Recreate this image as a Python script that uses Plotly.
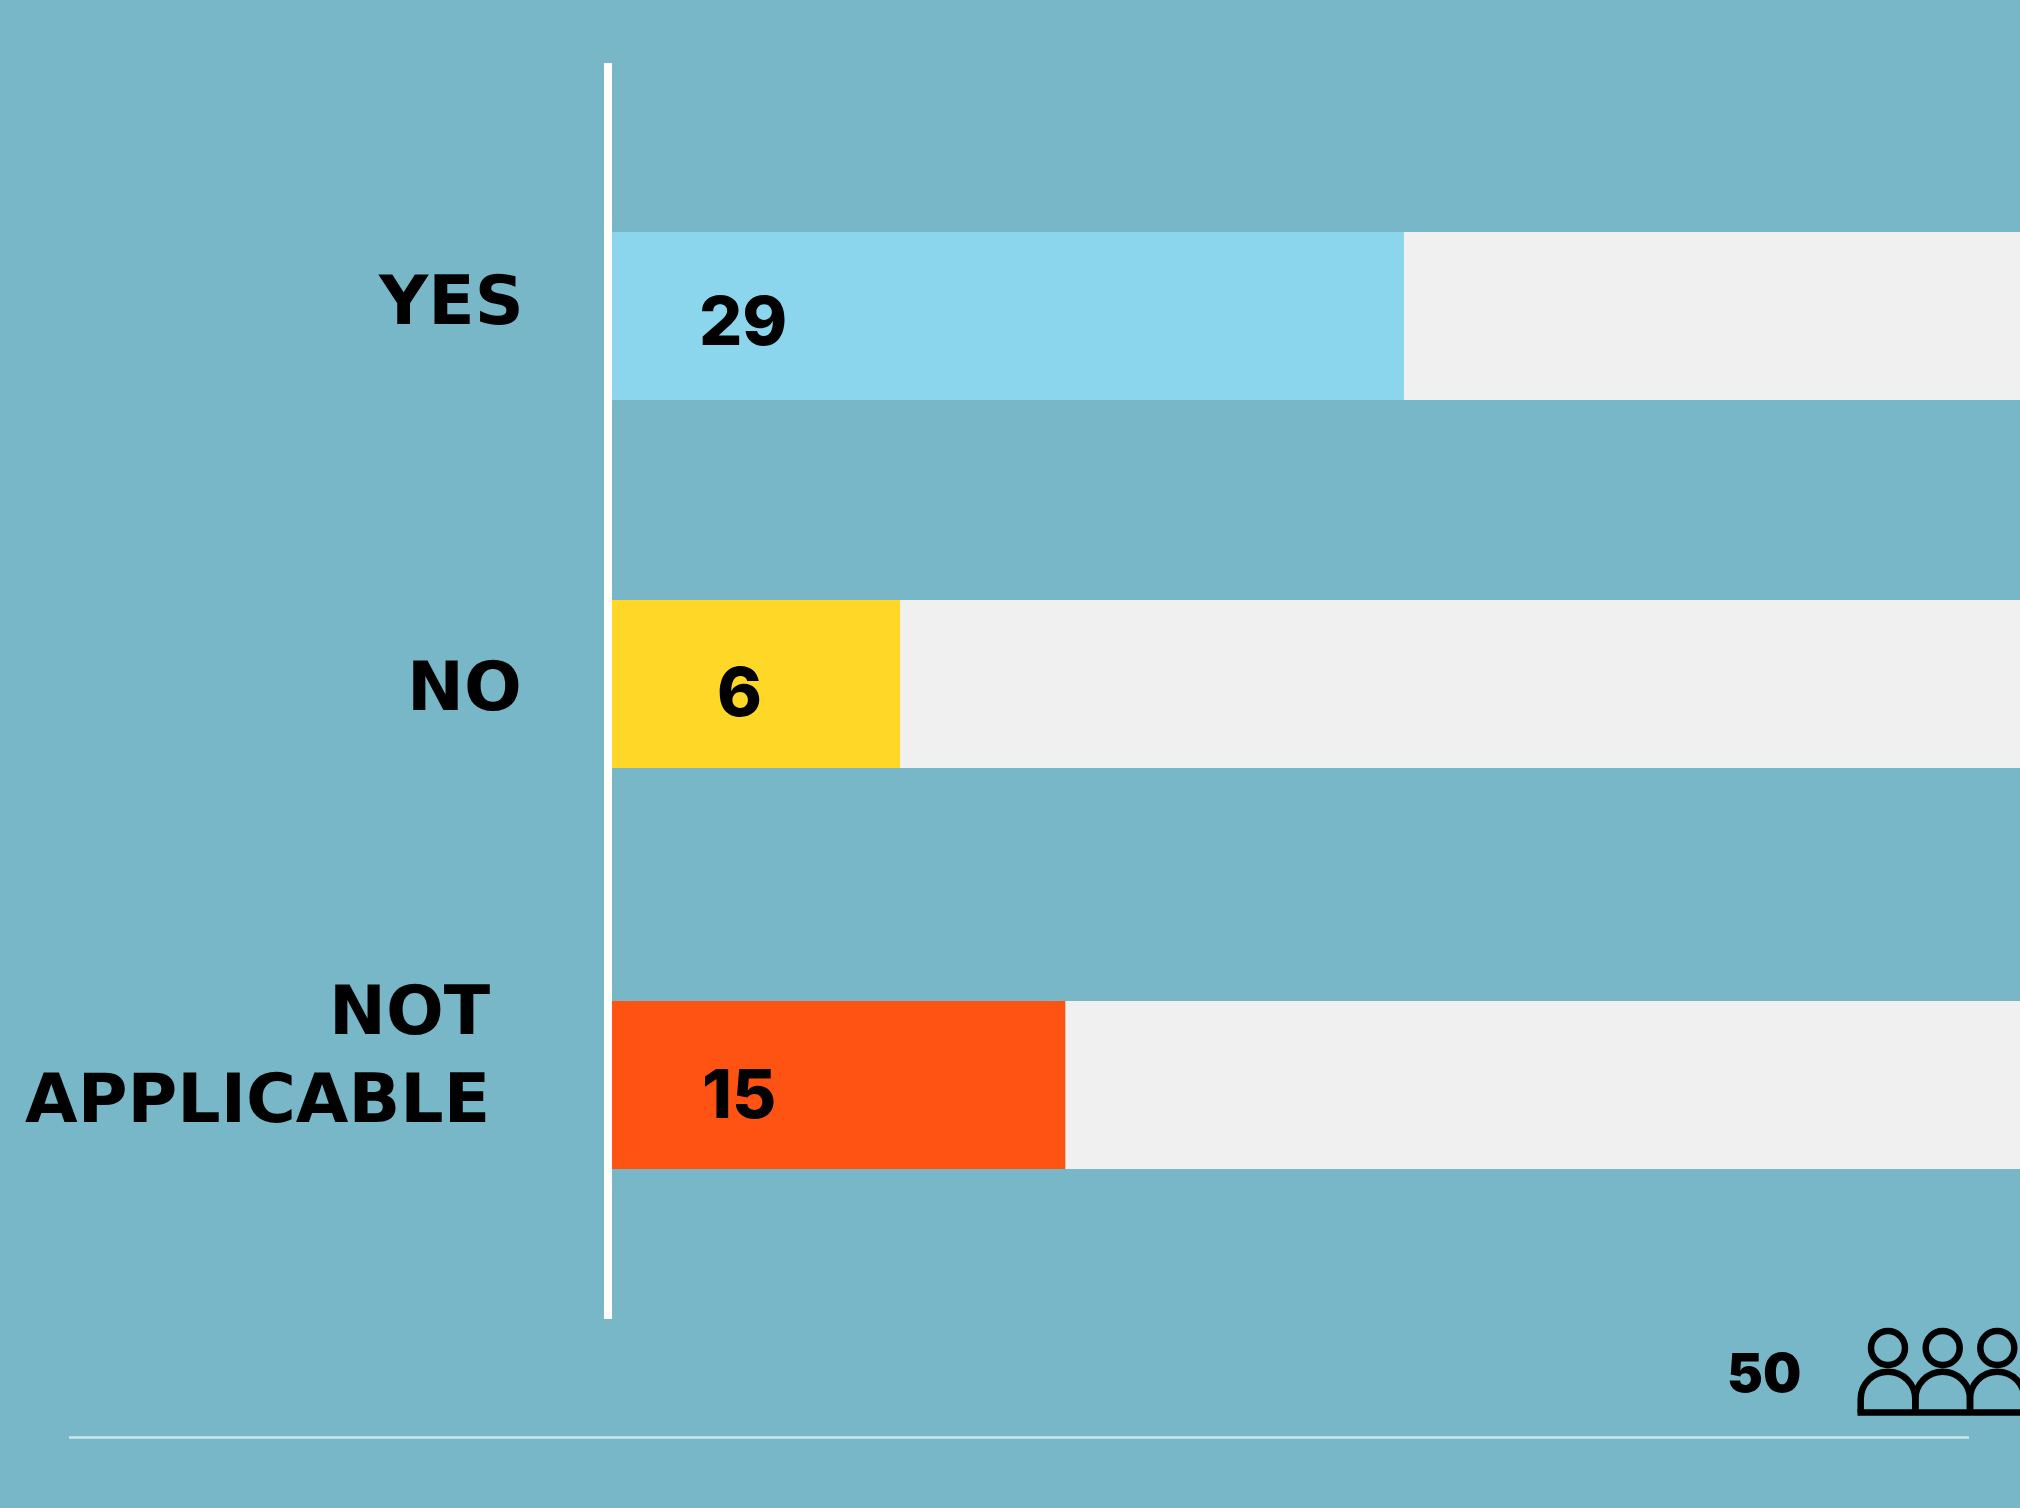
import plotly.graph_objects as go

categories = ["YES", "NO", "NOT<br>APPLICABLE"]
values = [29, 6, 15]
# Bar lengths as drawn in the picture (the drawn bars are not proportional to their labels)
drawn_lengths = [29.0, 10.55, 16.6]
track_lengths = [51.6, 51.6, 51.6]
row_positions = [0.0, 0.92, 1.9225]
bar_colors = ["#8BD6EC", "#FFD726", "#FF5314"]
total_label = "50"

W, H = 2020, 1508
L, T, B = 612, 63, 189
BG = "#78B7C7"
FONT = "Inter"
CAT_FONT = "DejaVu Sans"


def px(x):
    return (x - L) / (W - L)


def py(y):
    return 1 - (y - T) / (H - T - B)


fig = go.Figure()
fig.add_trace(go.Bar(y=row_positions, x=track_lengths, orientation="h", width=0.42,
                     marker=dict(color="#F0F0F0", line_width=0), hoverinfo="skip"))
fig.add_trace(go.Bar(y=row_positions, x=drawn_lengths, orientation="h", width=0.42,
                     marker=dict(color=bar_colors, line_width=0)))

annotations = []
cat_right = [526, 524, 493]
cat_shift = [-16, 2, -31]
for c, r, right, s in zip(categories, row_positions, cat_right, cat_shift):
    annotations.append(dict(x=0, y=r, xref="x", yref="y", text=c, showarrow=False,
                            xanchor="right", yanchor="middle", align="right",
                            xshift=right - L, yshift=-s,
                            font=dict(family=CAT_FONT, size=68, weight=700, color="#000")))
val_center = [743, 739, 739]
val_shift = [3.5, 7, 8]
for v, r, cx, s in zip(values, row_positions, val_center, val_shift):
    annotations.append(dict(x=0, y=r, xref="x", yref="y", text=str(v), showarrow=False,
                            xanchor="center", yanchor="middle",
                            xshift=cx - L, yshift=-s,
                            font=dict(family=FONT, size=68, weight=800, color="#000")))
annotations.append(dict(x=px(1764), y=py(1372), xref="paper", yref="paper", text=total_label,
                        showarrow=False, xanchor="center", yanchor="middle",
                        font=dict(family=FONT, size=54, weight=900, color="#000")))

shapes = [dict(type="line", xref="paper", yref="paper", x0=px(69), x1=px(1969),
               y0=py(1437.5), y1=py(1437.5), line=dict(color="#CFE5EA", width=2.5))]
icon_line = dict(color="#000", width=6.5)
people_x = [1888, 1942.7, 1997.3]
for cx in people_x:
    shapes.append(dict(type="circle", xref="paper", yref="paper", x0=px(cx - 17), x1=px(cx + 17),
                       y0=py(1348 + 17), y1=py(1348 - 17), line=icon_line))
    r = 27.3
    cy = 1399
    a, b = px(cx - r), px(cx + r)
    c_x, top, mid, bot = px(cx), py(cy - r), py(cy), py(1412.5)
    rx = b - c_x
    ry = top - mid
    k = 0.5523
    path = (f"M {a} {bot} L {a} {mid} C {a} {mid + k * ry} {c_x - k * rx} {top} {c_x} {top} "
            f"C {c_x + k * rx} {top} {b} {mid + k * ry} {b} {mid} L {b} {bot}")
    shapes.append(dict(type="path", xref="paper", yref="paper", path=path, line=icon_line))
shapes.append(dict(type="line", xref="paper", yref="paper", x0=px(1857.5), x1=px(2030),
                   y0=py(1412.5), y1=py(1412.5), line=icon_line))

fig.update_layout(
    width=W, height=H, barmode="overlay", showlegend=False,
    paper_bgcolor=BG, plot_bgcolor=BG,
    margin=dict(l=L, r=0, t=T, b=B, pad=0),
    xaxis=dict(visible=False, range=[0, 51.56], fixedrange=True),
    yaxis=dict(range=[2.5075, -0.6325], showline=True, linecolor="#FFFFFF", linewidth=8,
               showticklabels=False, ticks="", showgrid=False, zeroline=False, fixedrange=True),
    annotations=annotations, shapes=shapes,
)

fig.write_html("out.html", config={"displayModeBar": False},
               post_script="document.body.style.margin='0';document.documentElement.style.overflow='hidden';")
